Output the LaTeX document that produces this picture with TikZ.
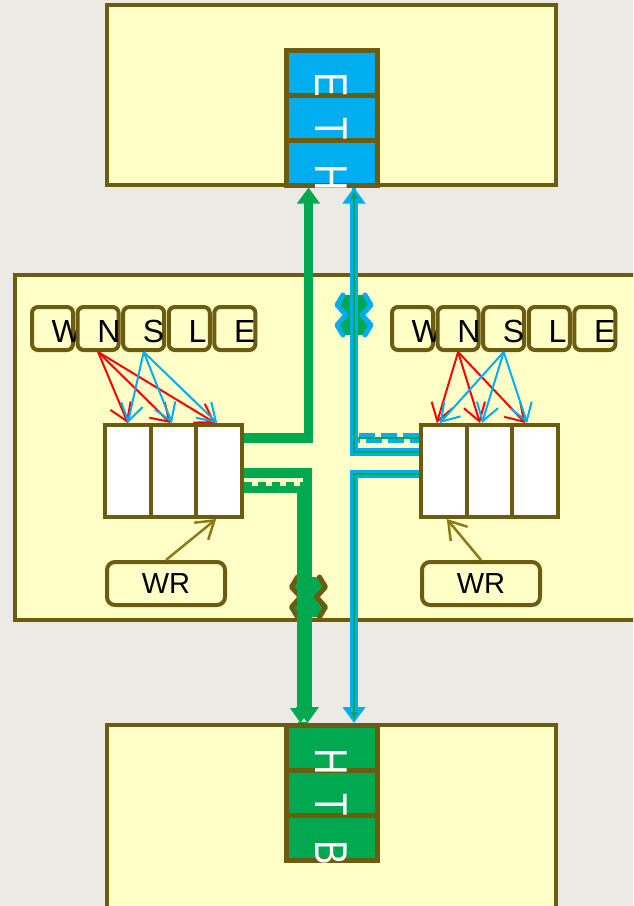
\documentclass[tikz,border=0pt]{standalone}
\usepackage{fontspec}
\setmainfont{Liberation Sans}
\usetikzlibrary{arrows.meta,positioning}
\definecolor{paper}{HTML}{ECEAE4}
\definecolor{panel}{HTML}{FFFFC8}
\definecolor{olive}{HTML}{6B5C10}
\definecolor{wrolive}{HTML}{8C7A14}
\definecolor{linkblue}{HTML}{00ADEF}
\definecolor{linkgreen}{HTML}{00A94F}
\definecolor{selred}{HTML}{FF0000}

% double chevron mark on a link: #1 outline colour, (#2,#3) centre
\newcommand{\cutsign}[3]{%
  \begin{scope}[shift={(#2,#3)}]
    \fill[linkgreen] (-11,-20) -- (-17,-10) -- (-8,0) -- (-17,10) -- (-11,20)
      -- (11,20) -- (17,10) -- (8,0) -- (17,-10) -- (11,-20) -- cycle;
    \draw[#1, line width=5pt, line join=round, line cap=round]
      (-11,-20) -- (-17,-10) -- (-8,0) -- (-17,10) -- (-11,20)
      (11,-20) -- (17,-10) -- (8,0) -- (17,10) -- (11,20);
  \end{scope}}

\begin{document}
\begin{tikzpicture}[x=1pt, y=-1pt,
  every node/.style={font=\fontsize{32}{36}\selectfont},
  panelbox/.style={rectangle, draw=olive, fill=panel, line width=4pt, inner sep=0pt},
  key/.style={rectangle, rounded corners=6pt, draw=olive, fill=panel, line width=4pt,
              minimum width=41pt, minimum height=43pt, inner sep=0pt},
  keytext/.style={anchor=base west, inner sep=0pt},
  cell/.style={rectangle, draw=olive, fill=white, line width=4pt,
               minimum width=45.7pt, minimum height=92pt, inner sep=0pt},
  port/.style={rectangle, draw=olive, line width=5pt,
               minimum width=91pt, minimum height=45pt, inner sep=0pt},
  portletter/.style={text=white, rotate=-90, inner sep=0pt, font=\fontsize{46}{50}\selectfont},
  wrbox/.style={rectangle, rounded corners=8pt, draw=olive, fill=panel, line width=4pt,
                minimum width=118pt, minimum height=43pt, inner sep=0pt,
                font=\fontsize{29}{32}\selectfont},
  sel/.style={line width=2pt, -{Straight Barb[length=17pt,width=22pt]}},
  wrarr/.style={wrolive, line width=2.5pt, -{Straight Barb[length=17pt,width=22pt]}},
  glink/.style={draw=linkgreen, line width=9.5pt, -{Triangle[length=16pt,width=22pt]}},
  gdash/.style={draw=linkgreen, line width=10pt, dash pattern=on 8pt off 6pt},
  gthin/.style={draw=linkgreen, line width=7pt, -{Triangle[length=15pt,width=20pt]}},
  clink/.style={draw=linkblue, line width=8pt, -{Triangle[length=16pt,width=22pt]}},
  ccore/.style={draw=linkgreen, line width=2pt, -{Triangle[length=7pt,width=6pt]}, shorten >=4pt},
  cdash/.style={draw=linkblue, line width=4.5pt, dash pattern=on 16pt off 6pt},
]
\path[use as bounding box, fill=paper] (0,0) rectangle (633,906);
\clip (0,0) rectangle (633,906);

% the three panels
\node[panelbox, minimum width=449pt, minimum height=180pt] (toppanel) at (331.5,95) {};
\node[panelbox, minimum width=645pt, minimum height=345pt] (midpanel) at (337.5,447.5) {};
\node[panelbox, minimum width=449pt, minimum height=210pt] (botpanel) at (331.5,830) {};

% ports
\node[port, fill=linkblue] (e1) at (331.5,72.5) {};
\node[port, fill=linkblue, below=-5pt of e1] (e2) {};
\node[port, fill=linkblue, below=-5pt of e2] (e3) {};
\node[port, fill=linkgreen] (h1) at (331.5,748) {};
\node[port, fill=linkgreen, below=-5pt of h1] (h2) {};
\node[port, fill=linkgreen, below=-5pt of h2] (h3) {};

\node[portletter] (eth1) at ([yshift=-12.5pt]e1.center) {\scalebox{0.8}[1]{E}};
\node[portletter] (eth2) at ([yshift=-11.5pt]e2.center) {\scalebox{0.8}[1]{T}};
\node[portletter] (eth3) at ([yshift=-15pt]e3.center) {\scalebox{0.8}[1]{H}};
\node[portletter] (htb1) at ([yshift=-14pt]h1.center) {\scalebox{0.8}[1]{H}};
\node[portletter] (htb2) at ([yshift=-11.5pt]h2.center) {\scalebox{0.8}[1]{T}};
\node[portletter] (htb3) at ([yshift=-15pt]h3.center) {\scalebox{0.8}[1]{B}};

% direction keys
\foreach \k [count=\i] in {W,N,S,L,E} {
  \node[key] (lk\i) at ({52.5+45.6*(\i-1)},328.5) {};
  \node[keytext] (lt\i) at ([xshift=21.5pt,yshift=-13.5pt]lk\i.west) {\k};
}
\foreach \k [count=\i] in {W,N,S,L,E} {
  \node[key] (rk\i) at ({412.5+45.6*(\i-1)},328.5) {};
  \node[keytext] (rt\i) at ([xshift=21.5pt,yshift=-13.5pt]rk\i.west) {\k};
}

% registers
\node[cell] (l1) at (127.8,471) {};
\node[cell, right=-4pt of l1] (l2) {};
\node[cell, right=-4pt of l2] (l3) {};
\node[cell] (r1) at (443.8,471) {};
\node[cell, right=-4pt of r1] (r2) {};
\node[cell, right=-4pt of r2] (r3) {};

\node[wrbox] (lwr) at (166,583.5) {WR};
\node[wrbox] (rwr) at (481,583.5) {WR};

% key selection
\foreach \i/\dx in {1/0,2/-3,3/-4}
  \draw[sel, selred] (lk2.south) -- ([xshift=\dx pt]l\i.north);
\foreach \i/\dx in {1/0,2/-1.5,3/-2}
  \draw[sel, linkblue] (lk3.south) -- ([xshift=\dx pt]l\i.north);
\foreach \i/\dx in {1/-7,2/-9.5,3/-10}
  \draw[sel, selred] (rk2.south) -- ([xshift=\dx pt]r\i.north);
\foreach \i/\dx in {1/-4,2/-7.5,3/-8}
  \draw[sel, linkblue] (rk3.south) -- ([xshift=\dx pt]r\i.north);

\draw[wrarr] (lwr.north) -- ([xshift=-3pt]l3.south);
\draw[wrarr] (rwr.north) -- ([xshift=3pt]r1.south);

% cut marks
\cutsign{linkblue}{354}{315}
\cutsign{olive}{308.5}{597}

% links to ETH
\draw[glink] ([yshift=33pt]l3.east) -| ([xshift=-23pt]e3.south);
\draw[cdash] ([yshift=36pt]r1.west) -| ([xshift=22.5pt]e3.south);
\draw[cdash, dash phase=7pt] ([yshift=30.5pt]r1.west) -| ([xshift=22.5pt]e3.south);
\draw[draw=linkgreen, line width=2pt] ([yshift=33.5pt]r1.west) -| ([xshift=22.5pt,yshift=-30pt]e3.south);
\draw[clink] ([yshift=19pt]r1.west) -| ([xshift=22.5pt]e3.south);
\draw[ccore] ([yshift=19pt]r1.west) -| ([xshift=22.5pt]e3.south);

% links to HTB
\draw[gthin] ([yshift=-18.5pt]l3.east) -| ([xshift=-31pt]h1.north);
\draw[gdash] ([yshift=-16pt]l3.east) -| ([xshift=-28.5pt]h1.north);
\draw[glink] ([yshift=-2pt]l3.east) -| ([xshift=-24pt]h1.north);
\draw[clink] ([yshift=-3pt]r1.west) -| ([xshift=22.5pt]h1.north);
\draw[ccore] ([yshift=-3pt]r1.west) -| ([xshift=22.5pt]h1.north);

\end{tikzpicture}
\end{document}
